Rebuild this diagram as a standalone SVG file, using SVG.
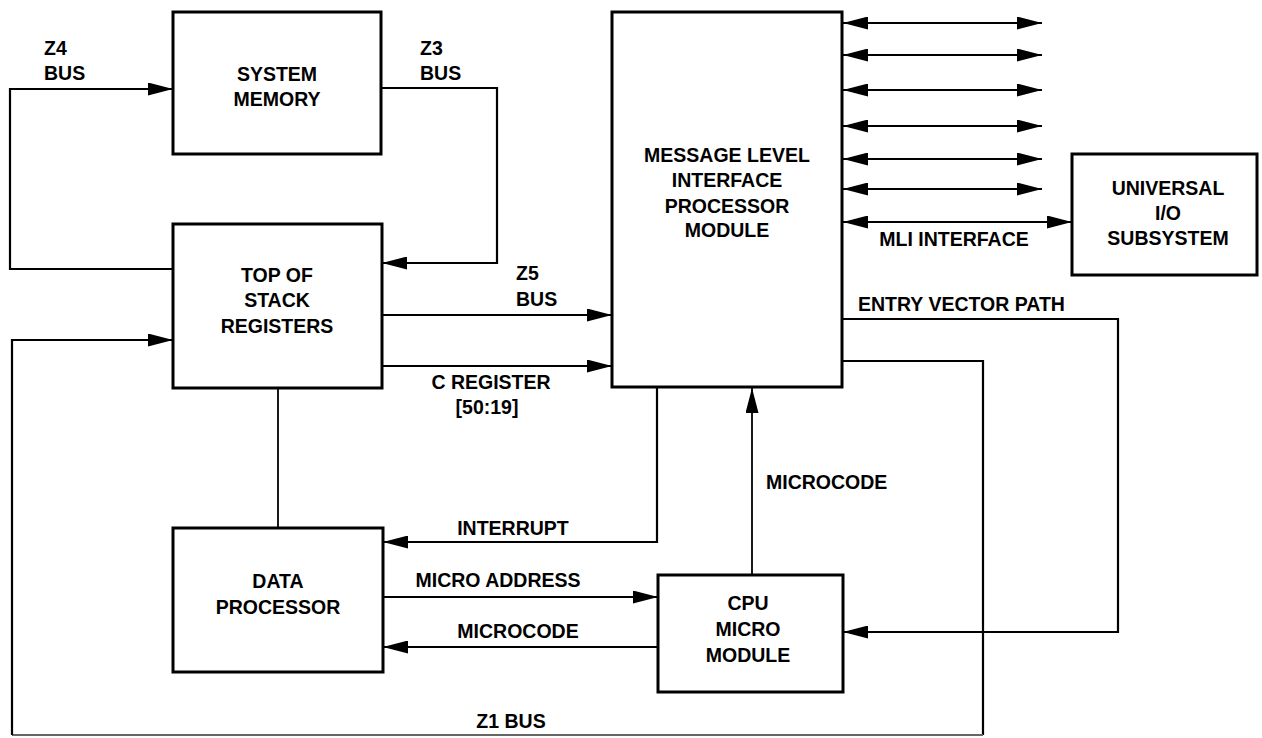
<svg xmlns="http://www.w3.org/2000/svg" width="1262" height="738" viewBox="0 0 1262 738">
<style>
.box{fill:#fff;stroke:#000;stroke-width:3}
.ln{fill:none;stroke:#000;stroke-width:2.2}
.thin{fill:none;stroke:#000;stroke-width:1.8}
.gray{fill:none;stroke:#666;stroke-width:2}
text{font-family:"Liberation Sans",Arial,sans-serif;font-weight:bold;font-size:19.5px;fill:#000}
.c{text-anchor:middle}
</style>
<defs>
<marker id="ah" viewBox="0 0 25 13" refX="25" refY="6.5" markerWidth="25" markerHeight="13" markerUnits="userSpaceOnUse" orient="auto-start-reverse">
<path d="M0,0 L25,6.5 L0,13 z" fill="#000"/>
</marker>
</defs>
<rect width="1262" height="738" fill="#fff"/>
<g id="connectors">
<path class="ln" d="M173,269 H10 V89 H173" marker-end="url(#ah)"/>
<path class="ln" d="M381,88 H497 V263 H382" marker-end="url(#ah)"/>
<path class="ln" d="M382,315 H612" marker-end="url(#ah)"/>
<path class="ln" d="M382,366 H612" marker-end="url(#ah)"/>
<path class="thin" d="M278,388 V528"/>
<path class="ln" d="M842,361 H983 V735"/>
<path class="gray" d="M983,735 H12"/>
<path class="ln" d="M12,735 V340 H173" marker-end="url(#ah)"/>
<path class="ln" d="M842,319 H1118 V632 H843" marker-end="url(#ah)"/>
<path class="ln" d="M657,387 V542 H383" marker-end="url(#ah)"/>
<path class="ln" d="M383,597 H658" marker-end="url(#ah)"/>
<path class="ln" d="M658,647 H383" marker-end="url(#ah)"/>
<path class="thin" d="M752,575 V388" marker-end="url(#ah)"/>
<path class="ln" d="M843,23 H1042" marker-start="url(#ah)" marker-end="url(#ah)"/>
<path class="ln" d="M843,55 H1042" marker-start="url(#ah)" marker-end="url(#ah)"/>
<path class="ln" d="M843,90 H1042" marker-start="url(#ah)" marker-end="url(#ah)"/>
<path class="ln" d="M843,126 H1042" marker-start="url(#ah)" marker-end="url(#ah)"/>
<path class="ln" d="M843,159 H1042" marker-start="url(#ah)" marker-end="url(#ah)"/>
<path class="ln" d="M843,189 H1042" marker-start="url(#ah)" marker-end="url(#ah)"/>
<path class="ln" d="M843,222 H1072" marker-start="url(#ah)" marker-end="url(#ah)"/>
<text x="44" y="55">Z4</text>
<text x="44" y="80">BUS</text>
<text x="420" y="55">Z3</text>
<text x="420" y="80">BUS</text>
<text x="516" y="280">Z5</text>
<text x="516" y="306">BUS</text>
<text class="c" x="491" y="389">C REGISTER</text>
<text class="c" x="487" y="414">[50:19]</text>
<text class="c" x="954" y="246">MLI INTERFACE</text>
<text x="858" y="311">ENTRY VECTOR PATH</text>
<text x="766" y="489">MICROCODE</text>
<text class="c" x="513" y="535">INTERRUPT</text>
<text class="c" x="498" y="587">MICRO ADDRESS</text>
<text class="c" x="518" y="638">MICROCODE</text>
<text class="c" x="511" y="728">Z1 BUS</text>
</g>
<g id="system-memory">
<rect class="box" x="173" y="12" width="208" height="142"/>
<text class="c" x="277" y="81">SYSTEM</text>
<text class="c" x="277" y="106">MEMORY</text>
</g>
<g id="top-of-stack">
<rect class="box" x="173" y="224" width="209" height="164"/>
<text class="c" x="277" y="282">TOP OF</text>
<text class="c" x="277" y="307">STACK</text>
<text class="c" x="277" y="333">REGISTERS</text>
</g>
<g id="mli-processor">
<rect class="box" x="612" y="12" width="230" height="375"/>
<text class="c" x="727" y="162">MESSAGE LEVEL</text>
<text class="c" x="727" y="187">INTERFACE</text>
<text class="c" x="727" y="213">PROCESSOR</text>
<text class="c" x="727" y="237">MODULE</text>
</g>
<g id="universal-io">
<rect class="box" x="1072" y="154" width="185" height="121"/>
<text class="c" x="1168" y="195">UNIVERSAL</text>
<text class="c" x="1168" y="220">I/O</text>
<text class="c" x="1168" y="245">SUBSYSTEM</text>
</g>
<g id="data-processor">
<rect class="box" x="173" y="528" width="210" height="144"/>
<text class="c" x="278" y="588">DATA</text>
<text class="c" x="278" y="614">PROCESSOR</text>
</g>
<g id="cpu-micro-module">
<rect class="box" x="658" y="575" width="185" height="117"/>
<text class="c" x="748" y="610">CPU</text>
<text class="c" x="748" y="636">MICRO</text>
<text class="c" x="748" y="662">MODULE</text>
</g>
</svg>
